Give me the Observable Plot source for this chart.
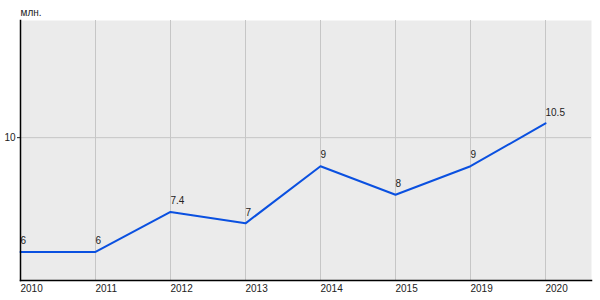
<!DOCTYPE html>
<html>
<head>
<meta charset="utf-8">
<script src="https://cdn.jsdelivr.net/npm/d3@7"></script>
<script src="https://cdn.jsdelivr.net/npm/@observablehq/plot@0.6"></script>
<style>
  html, body { margin: 0; padding: 0; background: #fff; }
</style>
</head>
<body>
<div id="chart"></div>
<script>
const years = ["2010", "2011", "2012", "2013", "2014", "2015", "2019", "2020"];
const values = [6, 6, 7.4, 7, 9, 8, 9, 10.5];
const labels = ["6", "6", "7.4", "7", "9", "8", "9", "10.5"];
const yTicks = [10];
const unit = "млн.";

const data = years.map((y, i) => ({year: y, value: values[i], label: labels[i]}));

const chart = Plot.plot({
  width: 600,
  height: 300,
  marginLeft: 20,
  marginRight: 9,
  marginTop: 20,
  marginBottom: 20,
  style: {fontFamily: "'Liberation Sans', Arial, sans-serif", fontSize: "10px", color: "#222", background: "#fff"},
  x: {type: "point", domain: years, range: [20, 545], padding: 0},
  y: {domain: [5, 14.1]},
  marks: [
    Plot.frame({fill: "#ebebeb", stroke: null}),
    Plot.ruleX(years, {stroke: "#c6c6c6", strokeWidth: 1}),
    Plot.ruleY(yTicks, {stroke: "#c6c6c6", strokeWidth: 1}),
    Plot.line(data, {x: "year", y: "value", stroke: "#0a50e0", strokeWidth: 2}),
    Plot.text(data, {x: "year", y: "value", text: "label", textAnchor: "start", dy: -11, fill: "#222", fontSize: 10}),
    Plot.frame({anchor: "left", stroke: "#000", strokeWidth: 1.5}),
    Plot.frame({anchor: "bottom", stroke: "#000", strokeWidth: 1.5}),
    Plot.axisX({tickSize: 0, tickPadding: 4, textAnchor: "start", label: null, fontSize: 10}),
    Plot.axisY({ticks: yTicks, tickSize: 3, tickPadding: 2, label: null, fontSize: 10}),
    Plot.text([unit], {text: d => d, frameAnchor: "top-left", textAnchor: "start", lineAnchor: "middle", dy: -8, fill: "#222", fontSize: 10})
  ]
});
document.getElementById("chart").appendChild(chart);
</script>
</body>
</html>
